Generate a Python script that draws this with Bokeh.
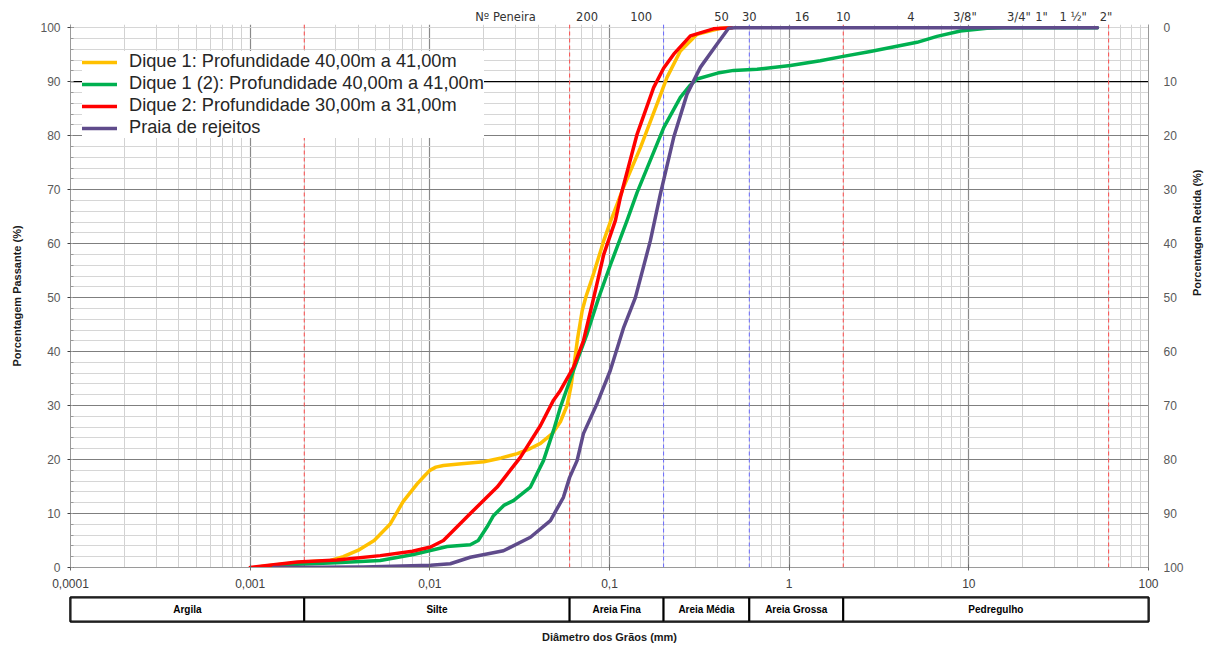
import math
from bokeh.plotting import figure
from bokeh.layouts import column
from bokeh.models import (FixedTicker, LinearAxis, LogAxis, Range1d, Span, Legend,
                          LegendItem, CustomJSTickFormatter, ColumnDataSource)
from bokeh.core.properties import value
from bokeh.embed import file_html
from bokeh.resources import INLINE

# ---------------- data ----------------
dique1_d = [0.00115, 0.0015, 0.002, 0.0028, 0.0033, 0.0040, 0.0049, 0.0060, 0.0071, 0.0085,
            0.0093, 0.0100, 0.0108, 0.0119, 0.0150, 0.0200, 0.0250, 0.0307, 0.0360, 0.0413,
            0.0480, 0.0533, 0.0580, 0.0610, 0.0635, 0.0665, 0.0705, 0.0740, 0.0817, 0.0930,
            0.1010, 0.1195, 0.1486, 0.184, 0.209, 0.248, 0.307, 0.414, 0.48]
dique1_p = [0.2, 0.6, 1.0, 1.3, 2.0, 3.2, 5.0, 8.0, 12.2, 15.5,
            16.9, 18.0, 18.6, 18.9, 19.2, 19.6, 20.3, 21.1, 22.0, 23.0,
            24.8, 27.0, 30.0, 33.5, 37.5, 42.5, 47.6, 50.2, 54.5, 60.6,
            64.0, 70.4, 77.8, 85.9, 90.8, 95.7, 98.8, 99.9, 100.0]

dique1b_d = [0.00115, 0.00183, 0.0030, 0.0053, 0.0081, 0.0125, 0.0154, 0.0168, 0.0186, 0.0208,
             0.0226, 0.0258, 0.0292, 0.0363, 0.0429, 0.0488, 0.0533, 0.0630, 0.0750, 0.0871,
             0.1010, 0.1253, 0.1425, 0.2004, 0.248, 0.280, 0.307, 0.40, 0.491, 0.663, 1.016,
             1.49, 2.0, 2.83, 5.15, 6.65, 8.97, 12.6, 15.6, 52.0]
dique1b_p = [0.1, 0.6, 0.9, 1.3, 2.4, 3.9, 4.1, 4.2, 5.0, 7.5,
             9.6, 11.5, 12.4, 14.9, 19.8, 25.4, 29.7, 36.5, 43.3, 50.0,
             56.0, 64.3, 69.5, 81.5, 87.1, 89.3, 90.5, 91.6, 92.1, 92.3, 93.0,
             93.9, 94.7, 95.6, 97.3, 98.4, 99.4, 99.9, 100.0, 100.0]

dique2_d = [0.0010, 0.00183, 0.00305, 0.0053, 0.0080, 0.0101, 0.0119, 0.0168, 0.0237, 0.0319,
            0.0413, 0.0488, 0.0533, 0.0630, 0.0716, 0.0817, 0.0929, 0.1079, 0.1150, 0.1425,
            0.176, 0.2000, 0.2277, 0.282, 0.379, 0.48]
dique2_p = [0.0, 1.0, 1.4, 2.2, 3.0, 3.8, 5.0, 10.0, 14.9, 20.4,
            26.3, 31.0, 32.8, 37.1, 42.0, 50.0, 58.0, 64.3, 68.6, 80.3,
            88.9, 92.5, 95.1, 98.5, 99.8, 100.0]

praia_d = [0.00135, 0.00427, 0.0101, 0.0130, 0.0168, 0.0257, 0.0363, 0.0469, 0.0554, 0.0600,
           0.0660, 0.0716, 0.0853, 0.1010, 0.1200, 0.1393, 0.1690, 0.192, 0.2277, 0.270,
           0.321, 0.397, 0.46, 0.50, 52.0]
praia_p = [0.0, 0.1, 0.4, 0.7, 1.9, 3.1, 5.6, 8.7, 13.0, 16.7,
           19.8, 24.8, 30.4, 36.5, 44.5, 50.0, 60.6, 69.2, 79.7, 87.7,
           92.7, 97.0, 99.9, 100.0, 100.0]

series_names = ["Dique 1: Profundidade 40,00m a 41,00m",
                "Dique 1 (2): Profundidade 40,00m a 41,00m",
                "Dique 2: Profundidade 30,00m a 31,00m",
                "Praia de rejeitos"]
series_colors = ["#FFC000", "#00B050", "#FF0000", "#5F4B8B"]

x_ticks = [0.0001, 0.001, 0.01, 0.1, 1, 10, 100]
x_tick_labels = ["0,0001", "0,001", "0,01", "0,1", "1", "10", "100"]
y_ticks = [0, 10, 20, 30, 40, 50, 60, 70, 80, 90, 100]

sieve_mm = [0.0264, 0.075, 0.15, 0.42, 0.6, 1.18, 2.0, 4.76, 9.5, 19.0, 25.4, 38.1, 58.0]
sieve_labels = ["Nº Peneira", "200", "100", "50", "30", "16", "10", "4", "3/8\"", "3/4\"",
                "1\"", "1 ½\"", "2\""]

red_limits = [0.002, 0.06, 2.0, 60.0]
blue_limits = [0.2, 0.6]

class_left = [0.0001, 0.002, 0.06, 0.2, 0.6, 2.0]
class_right = [0.002, 0.06, 0.2, 0.6, 2.0, 100.0]
class_names = ["Argila", "Silte", "Areia Fina", "Areia Média", "Areia Grossa", "Pedregulho"]

# ---------------- main chart ----------------
FONT = "Liberation Sans"
W = 1212

p = figure(width=W, height=594, x_axis_type="log",
           x_range=Range1d(0.0001, 100), y_range=Range1d(0, 100.6),
           output_backend="svg", toolbar_location=None,
           min_border_left=70, min_border_right=64, min_border_top=24, min_border_bottom=27)
p.outline_line_color = None
p.background_fill_color = "white"
p.border_fill_color = "white"

minor_x = [k * 10.0 ** e for e in range(-4, 2) for k in range(2, 10)]
p.xgrid.ticker = FixedTicker(ticks=x_ticks, minor_ticks=minor_x)
p.xgrid.grid_line_color = "#8a8a8a"
p.xgrid.grid_line_width = 1.2
p.xgrid.minor_grid_line_color = "#d2d2d2"
p.ygrid.ticker = FixedTicker(ticks=y_ticks[1:-1], minor_ticks=list(range(0, 101, 2)))
p.ygrid.grid_line_color = "#7f7f7f"
p.ygrid.grid_line_width = 1.2
p.ygrid.minor_grid_line_color = "#d6d6d6"

p.add_layout(Span(location=90, dimension="width", line_color="black", line_width=1.2, level="underlay"))
for v in red_limits:
    p.add_layout(Span(location=v, dimension="height", line_color="#FF4A4A",
                      line_dash="4 3", line_width=1, level="underlay"))
for v in blue_limits:
    p.add_layout(Span(location=v, dimension="height", line_color="#6A6AFF",
                      line_dash="4 3", line_width=1, level="underlay"))

data = [(dique1_d, dique1_p), (dique1b_d, dique1b_p), (dique2_d, dique2_p), (praia_d, praia_p)]
renderers = []
for (xs, ys), col in zip(data, series_colors):
    r = p.line(xs, ys, line_color=col, line_width=3.5, line_join="round", line_cap="round")
    renderers.append(r)

legend = Legend(items=[LegendItem(label=n, renderers=[r]) for n, r in zip(series_names, renderers)],
                location=(12, 429))
legend.label_text_font = FONT
legend.label_text_font_size = "18.2px"
legend.label_text_color = "#262626"
legend.glyph_width = 35
legend.glyph_height = 20
legend.label_height = 20
legend.label_standoff = 12
legend.spacing = 1
legend.padding = 8
legend.margin = 0
legend.border_line_color = None
legend.background_fill_color = "white"
legend.background_fill_alpha = 1.0
p.add_layout(legend)

fmt_code = """
const i = vals.findIndex(v => Math.abs(Math.log10(v) - Math.log10(tick)) < 1e-6);
return i >= 0 ? labels[i] : "";
"""

# bottom axis
xa = p.xaxis[0]
xa.ticker = FixedTicker(ticks=x_ticks)
xa.formatter = CustomJSTickFormatter(args=dict(vals=x_ticks, labels=x_tick_labels), code=fmt_code)
xa.axis_line_color = "#9a9a9a"
xa.major_tick_line_color = "#6a6a6a"
xa.major_tick_in = 3
xa.major_tick_out = 3
xa.minor_tick_line_color = None
xa.major_label_standoff = 8
xa.major_label_text_font = FONT
xa.major_label_text_font_size = "12px"
xa.major_label_text_color = "#404040"

# left axis
ya = p.yaxis[0]
ya.ticker = FixedTicker(ticks=y_ticks, minor_ticks=list(range(0, 101, 2)))
ya.axis_line_color = "#9a9a9a"
ya.major_tick_line_color = "#404040"
ya.major_tick_in = 3
ya.major_tick_out = 3
ya.minor_tick_line_color = "#9a9a9a"
ya.minor_tick_in = 3
ya.minor_tick_out = 0
ya.major_label_standoff = 7
ya.major_label_text_font = FONT
ya.major_label_text_font_size = "12px"
ya.major_label_text_color = "#595959"
ya.axis_label = "Porcentagem Passante (%)"
ya.axis_label_text_font = FONT
ya.axis_label_text_font_size = "11px"
ya.axis_label_text_font_style = "bold"
ya.axis_label_text_color = "#1a1a1a"
ya.axis_label_standoff = 14

# right axis (retained = 100 - passing)
p.extra_y_ranges = {"retida": Range1d(100, -0.6)}
ra = LinearAxis(y_range_name="retida", ticker=FixedTicker(ticks=y_ticks))
ra.axis_line_color = "#9a9a9a"
ra.major_tick_line_color = None
ra.minor_tick_line_color = None
ra.major_tick_out = 0
ra.major_tick_in = 0
ra.major_label_standoff = 15
ra.major_label_text_font = FONT
ra.major_label_text_font_size = "12px"
ra.major_label_text_color = "#595959"
ra.axis_label = "Porcentagem Retida (%)"
ra.axis_label_text_font = FONT
ra.axis_label_text_font_size = "11px"
ra.axis_label_text_font_style = "bold"
ra.axis_label_text_color = "#1a1a1a"
ra.axis_label_standoff = 10
ra.axis_label_orientation = math.pi / 2
p.add_layout(ra, "right")

# top axis with sieve numbers
ta = LogAxis(ticker=FixedTicker(ticks=sieve_mm),
             formatter=CustomJSTickFormatter(args=dict(vals=sieve_mm, labels=sieve_labels), code=fmt_code))
ta.axis_line_color = None
ta.major_tick_line_color = None
ta.minor_tick_line_color = None
ta.major_tick_out = 0
ta.major_tick_in = 0
ta.major_label_standoff = 1
ta.major_label_text_font = "DejaVu Sans"
ta.major_label_text_font_size = "11.5px"
ta.major_label_text_color = "#333333"
p.add_layout(ta, "above")

# ---------------- classification bar ----------------
p2 = figure(width=W, height=53, x_axis_type="log", x_range=p.x_range, y_range=Range1d(0, 1),
            output_backend="svg", toolbar_location=None, y_axis_location=None,
            min_border_left=70, min_border_right=64, min_border_top=3, min_border_bottom=26)
p2.xgrid.visible = False
p2.ygrid.visible = False
p2.outline_line_color = "black"
p2.outline_line_width = 2.5
p2.border_fill_color = "white"

src = ColumnDataSource(dict(left=class_left, right=class_right,
                            mid=[(a * b) ** 0.5 for a, b in zip(class_left, class_right)],
                            name=class_names))
p2.quad(left="left", right="right", bottom=0, top=1, source=src,
        fill_color="white", line_color="black", line_width=2)
p2.text(x="mid", y=0.5, text="name", source=src, text_align="center", text_baseline="middle",
        text_font=value(FONT), text_font_size="10px", text_font_style="bold", text_color="black")

bx = p2.xaxis[0]
bx.ticker = FixedTicker(ticks=[])
bx.axis_line_color = None
bx.major_tick_line_color = None
bx.minor_tick_line_color = None
bx.major_tick_out = 0
bx.major_label_standoff = 0
bx.axis_label = "Diâmetro dos Grãos (mm)"
bx.axis_label_text_font = FONT
bx.axis_label_text_font_size = "11px"
bx.axis_label_text_font_style = "bold"
bx.axis_label_text_color = "#1a1a1a"
bx.axis_label_standoff = 9

layout = column(p, p2, spacing=0)
open("out.html", "w").write(file_html(layout, INLINE))
